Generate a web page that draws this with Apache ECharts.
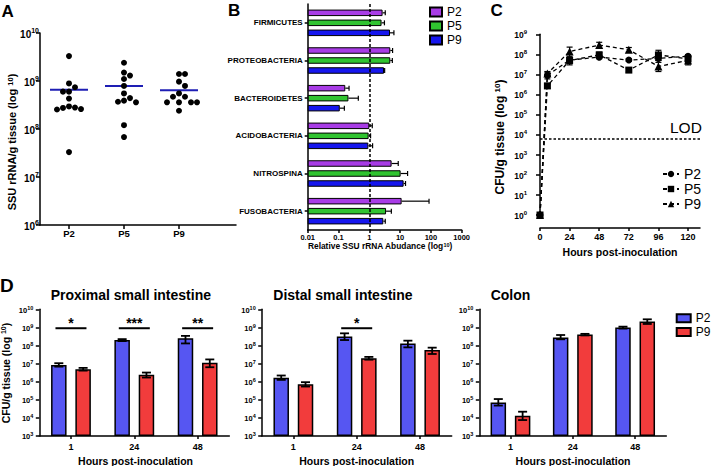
<!DOCTYPE html>
<html><head><meta charset="utf-8">
<script src="https://cdn.jsdelivr.net/npm/echarts@6/dist/echarts.min.js"></script>
<style>html,body{margin:0;padding:0;background:#fff}#c{width:720px;height:466px}</style>
</head><body><div id="c"></div>
<script>
// ================= DATA =================
// Panel A : SSU rRNA / g tissue (individual animals) and mean
const aCats = ['P2', 'P5', 'P9'];
const aP2 = [3.3e9, 8.9e8, 7.4e8, 6.0e8, 6.0e8, 4.3e8, 2.95e8, 2.8e8, 2.75e8, 2.6e8, 2.55e8, 3.3e7];
const aP5 = [2.4e9, 1.5e9, 1.3e9, 1.1e9, 7.9e8, 5.5e8, 4.4e8, 3.9e8, 3.7e8, 3.6e8, 1.2e8, 6.8e7];
const aP9 = [1.4e9, 1.4e9, 9.7e8, 7.9e8, 5.5e8, 4.7e8, 4.7e8, 3.6e8, 3.6e8, 3.6e8, 3.6e8, 2.4e8];
const aMean = [6.6e8, 7.9e8, 6.4e8];

// Panel B : relative SSU rRNA abundance (mean, upper error end)
const bCats = ['FIRMICUTES', 'PROTEOBACTERIA', 'BACTEROIDETES', 'ACIDOBACTERIA', 'NITROSPINA', 'FUSOBACTERIA'];
const bTickLabels = ['0.01', '0.1', '1', '10', '100', '1000'];
const bP2 = [2.7, 4.8, 0.166, 1.0, 5.3, 11.2];
const bP2Hi = [3.3, 5.7, 0.22, 1.25, 8.7, 87];
const bP5 = [2.5, 4.8, 0.21, 0.95, 10.4, 3.5];
const bP5Hi = [3.1, 5.6, 0.44, 1.1, 17.5, 5.2];
const bP9 = [4.7, 3.0, 0.11, 0.93, 13, 2.85];
const bP9Hi = [6.3, 3.15, 0.155, 1.28, 15, 3.3];
const bRef = 1;

// Panel C : CFU/g tissue over time
const cHours = [0, 6, 24, 48, 72, 96, 120];
const cTicks = [0, 24, 48, 72, 96, 120];
const cP2 = [1, 9e6, 5.2e7, 7.3e7, 5.2e7, 6.3e7, 8e7];
const cP2Lo = [1, 6e6, 3.5e7, 6e7, 4.5e7, 5e7, 6.5e7];
const cP2Hi = [1, 1.3e7, 7e7, 8.5e7, 6e7, 8e7, 9.5e7];
const cP5 = [1, 2.7e6, 5.0e7, 9.4e7, 1.65e7, 9.4e7, 6e7];
const cP5Lo = [1, 2e6, 3e7, 7e7, 1.3e7, 5e7, 4e7];
const cP5Hi = [1, 3.5e6, 7e7, 1.3e8, 2e7, 1.6e8, 7.5e7];
const cP9 = [1, 1.1e7, 1.4e8, 2.9e8, 1.7e8, 2.5e7, 5e7];
const cP9Lo = [1, 8e6, 8e7, 2e8, 1.3e8, 1.4e7, 3e7];
const cP9Hi = [1, 1.4e7, 2.3e8, 4e8, 2.2e8, 4e7, 6e7];
const cLOD = 6.6e3;

// Panel D : CFU/g tissue by site
const dHours = ['1', '24', '48'];
const proxP2 = [8.5e6, 2.0e8, 2.5e8], proxP2Lo = [6.8e6, 1.75e8, 1.3e8], proxP2Hi = [1.05e7, 2.25e8, 3.4e8];
const proxP9 = [4.9e6, 2.4e6, 1.1e7], proxP9Lo = [4.1e6, 1.7e6, 6.3e6], proxP9Hi = [5.8e6, 3.2e6, 1.7e7];
const proxSig = ['*', '***', '**'];
const distP2 = [1.66e6, 3.1e8, 1.3e8], distP2Lo = [1.26e6, 2.0e8, 7.9e7], distP2Hi = [2.2e6, 4.7e8, 1.85e8];
const distP9 = [7.2e5, 1.95e7, 5.6e7], distP9Lo = [5.4e5, 1.65e7, 3.4e7], distP9Hi = [9.4e5, 2.35e7, 7.6e7];
const distSig = ['', '*', ''];
const colP2 = [7.2e4, 2.8e8, 9.8e8], colP2Lo = [4.8e4, 2.2e8, 8.6e8], colP2Hi = [1.1e5, 3.8e8, 1.1e9];
const colP9 = [1.3e4, 4.0e8, 2.1e9], colP9Lo = [7.6e3, 3.6e8, 1.55e9], colP9Hi = [2.2e4, 4.4e8, 2.8e9];
const colSig = ['', '', ''];
const sigLevel = 9e8;

// ================= STYLE / LAYOUT =================
const L = Math.log10;
const FONT = "'Liberation Sans', Arial, Helvetica, sans-serif";
const G = [
  {left: 40, top: 33, width: 196, height: 192},        // A
  {left: 307.7, top: 4, width: 154, height: 226},      // B
  {left: 540, top: 34.3, width: 160, height: 180.7},   // C
  {left: 39.3, top: 309.3, width: 190, height: 126.7}, // D prox
  {left: 261.7, top: 309.3, width: 190, height: 126.7},// D dist
  {left: 479.3, top: 309.3, width: 187, height: 126.7} // D colon
];
const axLine = {show: true, onZero: false, lineStyle: {color: '#000', width: 1.5}};
const tick = (len, extra) => Object.assign({show: true, inside: false, length: len, lineStyle: {color: '#000', width: 1.5}}, extra || {});
const noSplit = {show: false};
function powLabel(shift, bs, ss, margin) {
  return {
    margin: margin, color: '#000',
    formatter: v => '{b|10}{s|' + Math.round(v + shift) + '}',
    rich: {
      b: {fontFamily: FONT, fontWeight: 'bold', fontSize: bs, lineHeight: bs + 2, verticalAlign: 'bottom', color: '#000'},
      s: {fontFamily: FONT, fontWeight: 'bold', fontSize: ss, lineHeight: ss, verticalAlign: 'top', color: '#000'}
    }
  };
}
const lbl = (size, margin, extra) => Object.assign({fontFamily: FONT, fontWeight: 'bold', fontSize: size, color: '#000', margin: margin}, extra || {});

// beeswarm placement computed from the values
function swarm(vals, center, pxX, pxY, step, minD) {
  const order = vals.map((v, i) => i).sort((a, b) => vals[b] - vals[a]);
  const placed = [], out = new Array(vals.length);
  order.forEach(i => {
    const y = L(vals[i]) * pxY;
    for (let k = 0; k < 30; k++) {
      const off = k === 0 ? 0 : (k % 2 ? 1 : -1) * Math.ceil(k / 2);
      const x = off * step;
      if (placed.every(p => Math.hypot(p[0] - x, p[1] - y) >= minD - 1e-6)) {
        placed.push([x, y]); out[i] = [center + x / pxX, L(vals[i])]; break;
      }
    }
  });
  return out;
}

const xAxis = [], yAxis = [], series = [];

// ---------- Panel A ----------
const A_XMIN = 1 - 29 / 55, A_XMAX = A_XMIN + G[0].width / 55;
xAxis.push({gridIndex: 0, type: 'value', min: A_XMIN, max: A_XMAX, axisLine: axLine,
  axisTick: tick(4, {customValues: [1, 2, 3]}),
  axisLabel: lbl(9.5, 3, {customValues: [1, 2, 3], formatter: v => aCats[Math.round(v) - 1]}), splitLine: noSplit});
yAxis.push({gridIndex: 0, type: 'value', min: 6, max: 10, interval: 1, axisLine: axLine, axisTick: tick(4),
  axisLabel: powLabel(0, 10, 7, 1), splitLine: noSplit});
const pxX = G[0].width / (A_XMAX - A_XMIN), pxY = G[0].height / 4;
[aP2, aP5, aP9].forEach((arr, i) => series.push({type: 'scatter', xAxisIndex: 0, yAxisIndex: 0,
  data: swarm(arr, i + 1, pxX, pxY, 6, 6), symbol: 'circle', symbolSize: 6,
  itemStyle: {color: '#000', opacity: 1}, z: 3, silent: true}));
series.push({type: 'scatter', xAxisIndex: 0, yAxisIndex: 0, data: aMean.map((m, i) => [i + 1, L(m)]),
  symbol: 'rect', symbolSize: [38, 2], itemStyle: {color: '#1e1eb4', opacity: 1}, z: 2, silent: true});

// ---------- Panel B ----------
xAxis.push({gridIndex: 1, type: 'value', min: 0, max: 5, interval: 1, axisLine: axLine, axisTick: tick(3),
  axisLabel: lbl(7.5, 3, {formatter: v => bTickLabels[Math.round(v)]}), splitLine: noSplit});
yAxis.push({gridIndex: 1, type: 'category', inverse: true, data: bCats, axisLine: axLine,
  axisTick: tick(3, {alignWithLabel: true}), axisLabel: lbl(8, 5), splitLine: noSplit});
const bCols = ['#a83ce6', '#30c430', '#1616ee'];
const bNames = ['P2', 'P5', 'P9'];
const bVals = [bP2, bP5, bP9], bHis = [bP2Hi, bP5Hi, bP9Hi];
const B_BW = 6.5, B_STEP = 10;
const hErr = off => (params, api) => {
  const p0 = api.coord([api.value(0), api.value(1)]);
  const p1 = api.coord([api.value(2), api.value(1)]);
  const y = p0[1] + off;
  return {type: 'group', children: [
    {type: 'line', shape: {x1: p0[0], y1: y, x2: p1[0], y2: y}, style: {stroke: '#000', lineWidth: 1.2}},
    {type: 'line', shape: {x1: p1[0], y1: y - 2.5, x2: p1[0], y2: y + 2.5}, style: {stroke: '#000', lineWidth: 1.2}}
  ]};
};
bVals.forEach((arr, i) => {
  const s = {type: 'bar', name: bNames[i], xAxisIndex: 1, yAxisIndex: 1, data: arr.map(v => L(v) + 2),
    barWidth: B_BW, barGap: ((B_STEP - B_BW) / B_BW * 100) + '%',
    itemStyle: {color: bCols[i], borderColor: '#000', borderWidth: 1}, z: 2, silent: true};
  if (i === 0) s.markLine = {silent: true, symbol: ['none', 'none'], label: {show: false},
    lineStyle: {color: '#000', type: [3, 2], width: 1.5}, data: [{xAxis: L(bRef) + 2}]};
  series.push(s);
  series.push({type: 'custom', xAxisIndex: 1, yAxisIndex: 1, silent: true, z: 3,
    data: arr.map((v, j) => [L(v) + 2, j, L(bHis[i][j]) + 2]), renderItem: hErr((i - 1) * B_STEP)});
});

// ---------- Panel C ----------
xAxis.push({gridIndex: 2, type: 'value', min: 0, max: 129.7, offset: 13, axisLine: axLine,
  axisTick: tick(3, {customValues: cTicks}), axisLabel: lbl(9, 4, {customValues: cTicks}), splitLine: noSplit});
yAxis.push({gridIndex: 2, type: 'value', min: 0, max: 9, interval: 1, axisLine: axLine, axisTick: tick(4),
  axisLabel: powLabel(0, 8.5, 6, 13), splitLine: noSplit});
const vErr = (off, cap, lw) => (params, api) => {
  const lo = api.coord([api.value(0), api.value(1)]);
  const hi = api.coord([api.value(0), api.value(2)]);
  const x = lo[0] + off;
  return {type: 'group', children: [
    {type: 'line', shape: {x1: x, y1: lo[1], x2: x, y2: hi[1]}, style: {stroke: '#000', lineWidth: lw}},
    {type: 'line', shape: {x1: x - cap, y1: hi[1], x2: x + cap, y2: hi[1]}, style: {stroke: '#000', lineWidth: lw}},
    {type: 'line', shape: {x1: x - cap, y1: lo[1], x2: x + cap, y2: lo[1]}, style: {stroke: '#000', lineWidth: lw}}
  ]};
};
const cNames = ['P2 ', 'P5 ', 'P9 '], cSyms = ['circle', 'rect', 'triangle'];
const cVals = [cP2, cP5, cP9], cLos = [cP2Lo, cP5Lo, cP9Lo], cHis = [cP2Hi, cP5Hi, cP9Hi];
cVals.forEach((arr, i) => {
  const s = {type: 'line', name: cNames[i], xAxisIndex: 2, yAxisIndex: 2,
    data: arr.map((v, j) => [cHours[j], L(v)]), symbol: cSyms[i], symbolSize: i === 2 ? 8 : 7, showSymbol: true,
    lineStyle: {color: '#000', width: 1.3, type: [4, 3]}, itemStyle: {color: '#000'}, z: 4, silent: true};
  if (i === 0) s.markLine = {silent: true, symbol: ['none', 'none'], label: {show: false},
    lineStyle: {color: '#000', type: [2.5, 2], width: 1.5}, data: [{yAxis: L(cLOD)}]};
  series.push(s);
  series.push({type: 'custom', xAxisIndex: 2, yAxisIndex: 2, silent: true, z: 3,
    data: arr.map((v, j) => [cHours[j], L(cLos[i][j]), L(cHis[i][j])]).filter(d => d[2] > d[1]),
    renderItem: vErr(0, 3, 1.2)});
});

// ---------- Panel D ----------
const dPanels = [
  {p2: proxP2, p2Lo: proxP2Lo, p2Hi: proxP2Hi, p9: proxP9, p9Lo: proxP9Lo, p9Hi: proxP9Hi, sig: proxSig},
  {p2: distP2, p2Lo: distP2Lo, p2Hi: distP2Hi, p9: distP9, p9Lo: distP9Lo, p9Hi: distP9Hi, sig: distSig},
  {p2: colP2, p2Lo: colP2Lo, p2Hi: colP2Hi, p9: colP9, p9Lo: colP9Lo, p9Hi: colP9Hi, sig: colSig}
];
const D_BW = 15.5, D_STEP = 24.3, SIG_HALF = 15.5;
const dCols = ['#5656f2', '#f23c3c'];
dPanels.forEach((P, k) => {
  const gi = 3 + k;
  xAxis.push({gridIndex: gi, type: 'category', data: dHours, axisLine: axLine,
    axisTick: tick(3, {alignWithLabel: true}), axisLabel: lbl(9, 6), splitLine: noSplit});
  yAxis.push({gridIndex: gi, type: 'value', min: 0, max: 7, interval: 1, axisLine: axLine, axisTick: tick(3.5),
    axisLabel: powLabel(3, 7.5, 5.5, 6), splitLine: noSplit});
  [[P.p2, P.p2Lo, P.p2Hi, 'P2  '], [P.p9, P.p9Lo, P.p9Hi, 'P9  ']].forEach((g, i) => {
    series.push({type: 'bar', name: g[3], xAxisIndex: gi, yAxisIndex: gi, data: g[0].map(v => L(v) - 3),
      barWidth: D_BW, barGap: ((D_STEP - D_BW) / D_BW * 100) + '%',
      itemStyle: {color: dCols[i], borderColor: '#000', borderWidth: 1.5}, z: 2, silent: true});
    series.push({type: 'custom', xAxisIndex: gi, yAxisIndex: gi, silent: true, z: 3,
      data: g[0].map((v, j) => [j, L(g[1][j]) - 3, L(g[2][j]) - 3]),
      renderItem: vErr((i === 0 ? -0.5 : 0.5) * D_STEP, 4.5, 1.8)});
  });
  const sd = [], st = [];
  P.sig.forEach((s, j) => { if (s) { sd.push([j, L(sigLevel) - 3]); st.push(s); } });
  if (sd.length) series.push({type: 'custom', xAxisIndex: gi, yAxisIndex: gi, silent: true, z: 4, data: sd,
    renderItem: (params, api) => {
      const p = api.coord([api.value(0), api.value(1)]);
      return {type: 'group', children: [
        {type: 'line', shape: {x1: p[0] - SIG_HALF, y1: p[1], x2: p[0] + SIG_HALF, y2: p[1]}, style: {stroke: '#000', lineWidth: 2}},
        {type: 'text', x: p[0], y: p[1] - 5, style: {text: st[params.dataIndex], fontFamily: FONT, fontWeight: 'bold',
          fontSize: 14, fill: '#000', align: 'center', verticalAlign: 'middle'}}
      ]};
    }});
});

// ---------- texts ----------
function T(x, y, text, size, o) {
  o = o || {};
  return {type: 'text', x: x, y: y, rotation: o.rot || 0, silent: true,
    style: {text: text, fontFamily: FONT, fontWeight: o.w || 'bold', fontSize: size, fill: '#000',
      align: o.align || 'center', verticalAlign: 'middle', rich: o.rich}};
}
const subRich = (n, s) => ({
  n: {fontFamily: FONT, fontWeight: 'bold', fontSize: n, lineHeight: n + 1, verticalAlign: 'top', fill: '#000'},
  s: {fontFamily: FONT, fontWeight: 'bold', fontSize: s, lineHeight: n + 7, verticalAlign: 'top', fill: '#000'}
});
const graphic = [
  T(1.5, 11, 'A', 17, {align: 'left'}),
  T(228, 10, 'B', 17, {align: 'left'}),
  T(490.5, 10.5, 'C', 17, {align: 'left'}),
  T(0, 285, 'D', 19, {align: 'left'}),
  T(15, 142, '{n|SSU rRNA/g tissue (log }{s|10}{n|)}', 11, {rot: Math.PI / 2, rich: subRich(11, 7.5)}),
  T(380, 250, '{n|Relative SSU rRNA Abudance (log}{s|10}{n|)}', 8.4, {rich: subRich(8.4, 5.5)}),
  T(503, 137, '{n|CFU/g tissue (log }{s|10}{n|)}', 12, {rot: Math.PI / 2, rich: subRich(12, 8)}),
  T(620, 252, 'Hours post-inoculation', 10.5),
  T(670, 127, 'LOD', 15.5, {align: 'left', w: 'normal'}),
  T(9, 373, '{n|CFU/g tissue (log }{s|10}{n|)}', 10.5, {rot: Math.PI / 2, rich: subRich(10.5, 7)}),
  T(50.7, 295, 'Proximal small intestine', 14, {align: 'left'}),
  T(273.3, 295, 'Distal small intestine', 14, {align: 'left'}),
  T(490.7, 295, 'Colon', 14, {align: 'left'}),
  T(135.5, 461, 'Hours post-inoculation', 10.5),
  T(356.7, 461, 'Hours post-inoculation', 10.5),
  T(573, 461, 'Hours post-inoculation', 10.5)
];

const legendText = (size, lh) => ({fontFamily: FONT, fontSize: size, lineHeight: lh, color: '#000'});
const option = {
  animation: false,
  backgroundColor: '#fff',
  textStyle: {fontFamily: FONT},
  grid: G.map(g => Object.assign({containLabel: false, outerBoundsMode: 'none', show: false}, g)),
  xAxis: xAxis, yAxis: yAxis, series: series, graphic: graphic,
  legend: [
    {data: bNames, left: 429, top: 6, orient: 'vertical', icon: 'rect', itemWidth: 12, itemHeight: 9, itemGap: 2,
      selectedMode: false, textStyle: legendText(12, 11), padding: 0},
    {data: cNames, left: 662, top: 167, orient: 'vertical', itemWidth: 16, itemHeight: 8, itemGap: 1,
      selectedMode: false, formatter: n => n.trim(), textStyle: legendText(14, 9), padding: 0},
    {data: ['P2  ', 'P9  '], left: 675.7, top: 312, orient: 'vertical', icon: 'rect', itemWidth: 14, itemHeight: 8, itemGap: 1,
      selectedMode: false, formatter: n => n.trim(), textStyle: legendText(12, 12.7), padding: 0}
  ]
};
const chart = echarts.init(document.getElementById('c'), null, {renderer: 'svg', width: 720, height: 466});
chart.setOption(option);
</script>
</body></html>
